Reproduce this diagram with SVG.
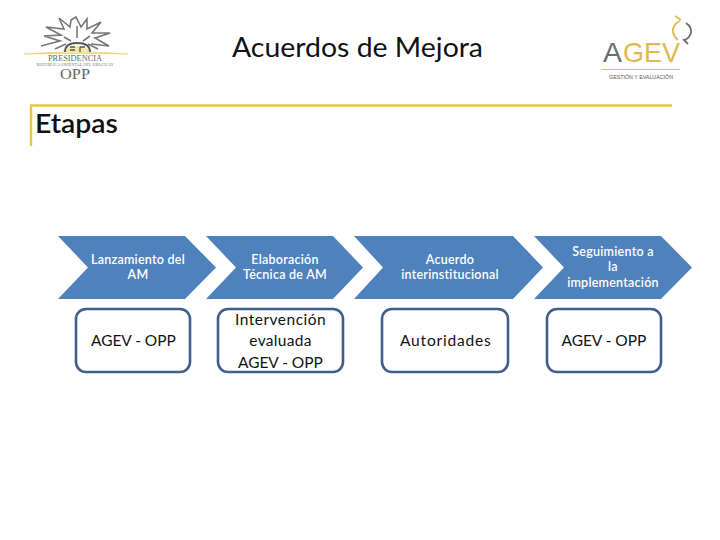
<svg xmlns="http://www.w3.org/2000/svg" width="720" height="540" viewBox="0 0 720 540">
<style>
.t{font-family:"Lato","Open Sans","Liberation Sans",sans-serif;text-anchor:middle}
.c{fill:#4f81bd}
.w{fill:#fff;font-size:12.5px;font-weight:600;letter-spacing:.25px}
.b{fill:#fff;stroke:#3f5f8a;stroke-width:2.6}
.k{fill:#111;font-size:15.500px;letter-spacing:.3px}
.ray{fill:none;stroke:#77777a;stroke-width:1.6;stroke-linejoin:miter}
.s{font-family:"Liberation Serif",serif;text-anchor:middle}
</style>
<rect width="720" height="540" fill="#fff"/>
<g id="opp-logo">
<path d="M24 54Q77 50 128 54Q77 52.500 24 54Z" fill="#e8cf5c" stroke="#ecd678" stroke-width=".8"/>
<path d="M60 53Q77 38 94 53Z" fill="#f3e6a8"/>
<path class="ray" d="M41 46L60 41L44 36L61 35L46 27L64 29L59 18L70 27L71 20L76 17L81 27L87 19L87 29L101 22L92 33L110 33L95 38L109 46L91 44"/>
<path class="ray" d="M55 49L66 44M98 49L88 44M64 37L71 41M90 36L83 41M77 26V38"/>
<path d="M65 52Q65 43 77 43Q90 43 90 52" fill="none" stroke="#555" stroke-width="1.8"/>
<path d="M70 47H75M70 50H75M80 47H85M80 47V52" fill="none" stroke="#555" stroke-width="1.3"/>
<text x="75" y="61" class="s" font-size="7.500" fill="#666" textLength="54" lengthAdjust="spacingAndGlyphs">PRESIDENCIA</text>
<text x="75" y="65.800" class="s" font-size="3.500" fill="#777" textLength="77" lengthAdjust="spacingAndGlyphs">REPÚBLICA ORIENTAL DEL URUGUAY</text>
<text x="75" y="79" class="s" font-size="14" fill="#666" textLength="30" lengthAdjust="spacingAndGlyphs">OPP</text>
</g>
<g id="agev-logo">
<text x="603" y="62" style="font-family:'Liberation Sans',sans-serif" font-size="28" fill="#6d6e71" textLength="19" lengthAdjust="spacingAndGlyphs">A</text>
<text x="623" y="62" style="font-family:'Liberation Sans',sans-serif" font-size="28" fill="#dfb94e" textLength="57" lengthAdjust="spacingAndGlyphs">GEV</text>
<path d="M675 16L681 20M680 21Q672 25 673 32Q674 37 678 40" fill="none" stroke="#dfb94e" stroke-width="1.800"/>
<path d="M686 23Q692 27 691 33Q689 39 684 40L688 44" fill="none" stroke="#6d6e71" stroke-width="1.800"/>
<rect x="602" y="69" width="78" height="1" fill="#dfc06a"/>
<text x="641" y="79" class="t" style="font-family:'Liberation Sans',sans-serif" font-size="5.500" fill="#555" textLength="64" lengthAdjust="spacingAndGlyphs">GESTIÓN Y EVALUACIÓN</text>
</g>
<g id="title"><text x="357.500" y="57" class="t" font-size="26" fill="#111" textLength="251" lengthAdjust="spacingAndGlyphs">Acuerdos de Mejora</text></g>
<g id="header">
<path d="M31 146V105.500H672" fill="none" stroke="#e5c743" stroke-width="2.400"/>
<text x="35" y="133" style="font-family:'Lato','Open Sans',sans-serif" font-size="26" font-weight="600" fill="#111" textLength="83" lengthAdjust="spacingAndGlyphs">Etapas</text>
</g>
<g id="step1">
<path class="c" d="M58 236H185L216 267.500L185 299H58L88 267.500Z"/>
<text class="t w" x="138" y="264">Lanzamiento del</text><text class="t w" x="138" y="279">AM</text>
</g>
<g id="step2">
<path class="c" d="M206 236H333L363 267.500L333 299H206L236 267.500Z"/>
<text class="t w" x="285" y="264">Elaboración</text><text class="t w" x="285" y="279">Técnica de AM</text>
</g>
<g id="step3">
<path class="c" d="M354 236H513L543 267.500L513 299H354L383 267.500Z"/>
<text class="t w" x="450" y="264">Acuerdo</text><text class="t w" x="450" y="279">interinstitucional</text>
</g>
<g id="step4">
<path class="c" d="M534 236H661L692 267.500L661 299H534L564 267.500Z"/>
<text class="t w" x="613" y="256">Seguimiento a</text><text class="t w" x="613" y="271">la</text><text class="t w" x="613" y="287">implementación</text>
</g>
<g id="box1">
<rect class="b" x="76" y="309" width="114" height="63" rx="10"/>
<text class="t k" x="133.500" y="346" textLength="85">AGEV - OPP</text>
</g>
<g id="box2">
<rect class="b" x="218" y="309" width="125" height="63" rx="10"/>
<text class="t k" x="280.500" y="325" textLength="91">Intervención</text><text class="t k" x="280.500" y="346">evaluada</text><text class="t k" x="280.500" y="368" textLength="85">AGEV - OPP</text>
</g>
<g id="box3">
<rect class="b" x="382" y="309" width="126" height="63" rx="10"/>
<text class="t k" x="445.500" y="346" textLength="91">Autoridades</text>
</g>
<g id="box4">
<rect class="b" x="547" y="309" width="114" height="63" rx="10"/>
<text class="t k" x="604" y="346" textLength="85">AGEV - OPP</text>
</g>
<g id="connectors"/>
</svg>
